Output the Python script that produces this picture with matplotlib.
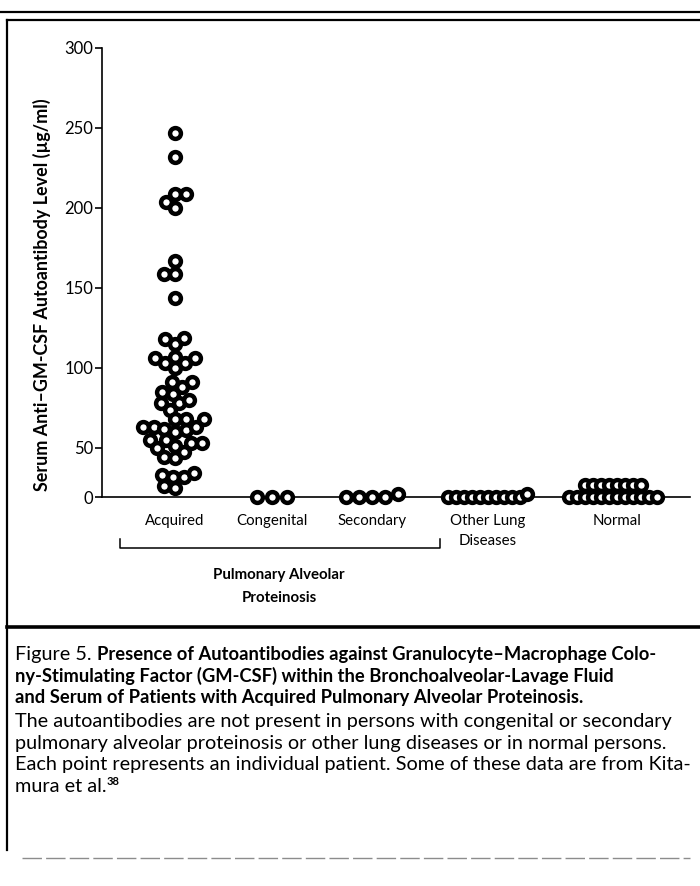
import numpy as np
import matplotlib
matplotlib.use('Agg')
import matplotlib.pyplot as plt
from matplotlib.lines import Line2D

plt.rcParams['font.family'] = ['Lato', 'DejaVu Sans']

# values (ug/ml)
categories = ['Acquired', 'Congenital', 'Secondary', 'Other Lung\nDiseases', 'Normal']
acquired = [247, 232, 209, 209, 204, 200, 167, 159, 159, 144, 119, 118, 115,
            107, 106, 106, 103, 103, 100, 91, 91, 88, 85, 84, 80, 78, 78, 74,
            68, 68, 68, 63, 63, 63, 62, 61, 60, 55, 55, 53, 53, 51, 50, 46,
            41, 40, 24, 22, 20, 20, 11, 9]
congenital = [0, 0, 0]
secondary = [0, 0, 0, 3, 0]
other_lung = [0, 0, 3, 0, 0, 0, 0, 0, 0, 0, 0]
normal = [0, 0, 0, 0, 0, 0, 0, 0, 0, 0, 0, 0,
          12, 12, 12, 12, 12, 12, 12, 12]
yticks = [0, 50, 100, 150, 200, 250, 300]

W, H = 700, 886
fig = plt.figure(figsize=(W / 100, H / 100), dpi=100)


def fx(x):
    return x / W


def fy(y):
    return 1 - y / H


# the original axis squeezes the 0-50 step
BRK, SQ = 50.0, 0.6125


def fwd(v):
    v = np.asarray(v, float)
    return np.where(v < BRK, v * SQ, v - BRK + BRK * SQ)


def inv(u):
    u = np.asarray(u, float)
    return np.where(u < BRK * SQ, u / SQ, u + BRK - BRK * SQ)


# axes placement in pixels
AX_L, AX_R, AX_T, AX_B = 102, 690, 48, 497
ax = fig.add_axes([fx(AX_L), fy(AX_B), (AX_R - AX_L) / W, (AX_B - AX_T) / H])
ax.set_yscale('function', functions=(fwd, inv))
ax.set_xlim(0, (AX_R - AX_L) / 100)
ax.set_ylim(0, 300)
xpos = [0.73, 1.70, 2.70, 3.86, 5.15]
seps = [11, 15, 13, 8, 8]  # min distance between centres, px

px_x = ax.bbox.width / (ax.get_xlim()[1] - ax.get_xlim()[0])
px_y = ax.bbox.height / float(fwd(300))


def swarm(vals, sep):
    # simple beeswarm: place each point nearest the centre without overlap
    ys = fwd(vals) * px_y
    order = np.argsort(ys, kind='stable')
    xs = np.zeros(len(ys))
    placed = []
    for i in order:
        y = ys[i]
        near = [(px, py) for px, py in placed if abs(py - y) < sep]
        cands = [0.0]
        for px, py in near:
            d = np.sqrt(sep ** 2 - (py - y) ** 2)
            cands += [px - d, px + d]
        cands.sort(key=abs)
        for c in cands:
            if all((c - px) ** 2 + (y - py) ** 2 >= sep ** 2 - 1e-6 for px, py in near):
                xs[i] = c
                break
        placed.append((xs[i], y))
    return xs / px_x


groups = [acquired, congenital, secondary, other_lung, normal]
for g, x0, s in zip(groups, xpos, seps):
    dx = swarm(g, s)
    v = np.asarray(g, float)
    o = np.argsort(dx, kind='stable')
    ax.plot(x0 + dx[o], v[o], 'o', ms=7.8, mew=3.2, mfc='white', mec='black',
            ls='none', clip_on=False, zorder=3)

for side in ['top', 'right']:
    ax.spines[side].set_visible(False)
ax.spines['left'].set_linewidth(1.2)
ax.spines['bottom'].set_linewidth(1.2)
ax.set_yticks(yticks)
ax.set_yticklabels([str(t) for t in yticks])
ax.yaxis.set_minor_locator(matplotlib.ticker.NullLocator())
ax.tick_params(axis='y', length=5, width=1.2, pad=1.5, labelsize=12)
ax.set_xticks(xpos)
ax.set_xticklabels(categories, fontsize=10.8, linespacing=1.55)
ax.tick_params(axis='x', length=0, pad=12.5)
ax.set_ylabel('Serum Anti–GM-CSF Autoantibody Level (µg/ml)', fontsize=12.9,
              fontweight='bold')
ax.yaxis.set_label_coords(-0.087, 0.45)

# bracket under the pulmonary alveolar proteinosis groups
BL, BR, BY = 120, 440, 548
fig.add_artist(Line2D([fx(BL), fx(BL), fx(BR), fx(BR)],
                      [fy(BY - 9), fy(BY), fy(BY), fy(BY - 9)],
                      color='black', lw=1.1))
fig.text(fx(279), fy(575), 'Pulmonary Alveolar', ha='center', va='center',
         fontsize=10.8, fontweight='bold')
fig.text(fx(279), fy(598), 'Proteinosis', ha='center', va='center',
         fontsize=10.8, fontweight='bold')

# frame
fig.add_artist(Line2D([0, 1], [fy(12), fy(12)], color='black', lw=1.6))
fig.add_artist(Line2D([fx(7), 1], [fy(20), fy(20)], color='black', lw=1.6))
fig.add_artist(Line2D([fx(7), fx(7)], [fy(20), fy(850)], color='black', lw=1.6))
fig.add_artist(Line2D([fx(7), 1], [fy(627), fy(627)], color='black', lw=2.6))
fig.add_artist(Line2D([fx(22), fx(690)], [fy(858), fy(858)], color='0.55', lw=1.0,
                      ls=(0, (14, 3))))

# caption
CX = 15
fs = 14.3
fst = 13.2
t1 = fig.text(fx(CX), fy(660), 'Figure 5. ', fontsize=fs, va='baseline')
ax.annotate('Presence of Autoantibodies against Granulocyte–Macrophage Colo-',
            xy=(1, 0), xycoords=t1, va='bottom', ha='left', fontsize=fst,
            fontweight='bold', annotation_clip=False)
fig.text(fx(CX), fy(682), 'ny-Stimulating Factor (GM-CSF) within the Bronchoalveolar-Lavage Fluid',
         fontsize=fst, fontweight='bold', va='baseline')
fig.text(fx(CX), fy(703), 'and Serum of Patients with Acquired Pulmonary Alveolar Proteinosis.',
         fontsize=fst, fontweight='bold', va='baseline')
body = ['The autoantibodies are not present in persons with congenital or secondary',
        'pulmonary alveolar proteinosis or other lung diseases or in normal persons.',
        'Each point represents an individual patient. Some of these data are from Kita-']
for k, line in enumerate(body):
    fig.text(fx(CX), fy(727 + 21.7 * k), line, fontsize=fs, va='baseline')
t2 = fig.text(fx(CX), fy(792), 'mura et al.', fontsize=fs, va='baseline')
ax.annotate('38', xy=(1, 0.45), xycoords=t2, va='bottom', ha='left',
            fontsize=8, fontweight='bold', annotation_clip=False)

fig.savefig('out.png', dpi=100)
